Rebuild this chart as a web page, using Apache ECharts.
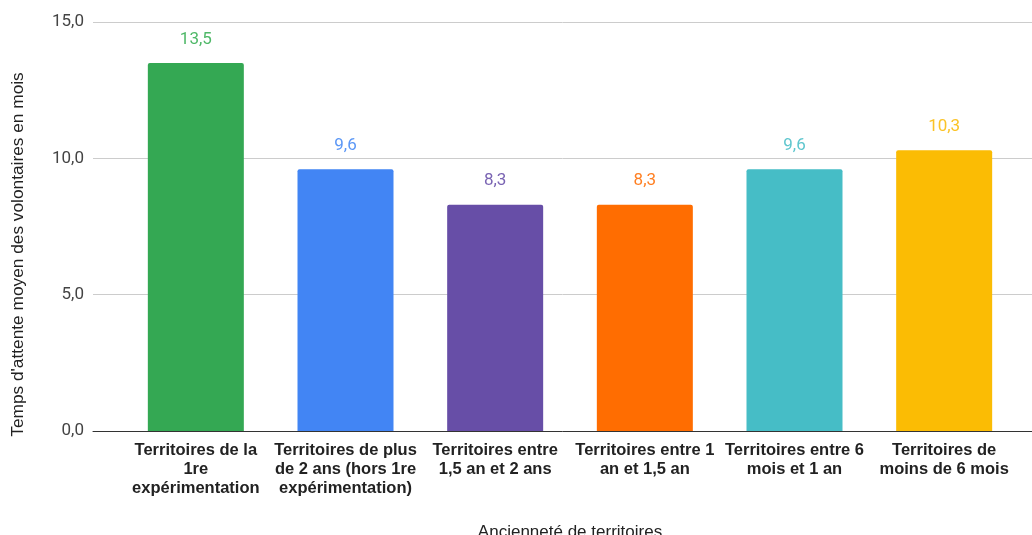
<!DOCTYPE html>
<html><head><meta charset="utf-8">
<script src="https://cdn.jsdelivr.net/npm/echarts@6/dist/echarts.min.js"></script>
<style>html,body{margin:0;padding:0;background:#fff}#c{width:1032px;height:535px}</style>
</head><body><div id="c"></div>
<script>
const categories = [
  "Territoires de la\n1re\nexpérimentation",
  "Territoires de plus\nde 2 ans (hors 1re\nexpérimentation)",
  "Territoires entre\n1,5 an et 2 ans",
  "Territoires entre 1\nan et 1,5 an",
  "Territoires entre 6\nmois et 1 an",
  "Territoires de\nmoins de 6 mois"
];
const values = [13.5, 9.6, 8.3, 8.3, 9.6, 10.3];
const barColors = ["#34a853", "#4285f4", "#674ea7", "#ff6d01", "#46bdc6", "#fbbc04"];
const labelColors = ["#4fb868", "#5b97f6", "#7a64b3", "#ff7f22", "#5ec6ce", "#fbc327"];
const yTicks = [0, 5, 10, 15];

const fmt = v => v.toFixed(1).replace('.', ',');
const chart = echarts.init(document.getElementById('c'));
chart.setOption({
  animation: false,
  grid: [
    {left: 121, right: 13, top: 22, bottom: 104, outerBoundsMode: 'none', containLabel: false},
    {left: 93, right: 0, top: 22, bottom: 104, outerBoundsMode: 'none', containLabel: false}
  ],
  xAxis: [
    {type: 'category', gridIndex: 0, data: categories,
     axisLine: {show: false}, axisTick: {show: false},
     axisLabel: {interval: 0, fontFamily: 'Liberation Sans', fontWeight: 'bold', fontSize: 16.5, color: '#222', lineHeight: 19, margin: 10},
     name: 'Ancienneté de territoires', nameLocation: 'middle', nameGap: 93,
     nameTextStyle: {fontFamily: 'Liberation Sans', fontSize: 17, color: '#222'}},
    {type: 'value', gridIndex: 1, min: 0, max: 1, show: true,
     axisLine: {show: true, lineStyle: {color: '#333', width: 1}}, axisTick: {show: false}, axisLabel: {show: false}, splitLine: {show: false}}
  ],
  yAxis: [
    {type: 'value', gridIndex: 0, min: 0, max: 15, interval: 5, show: false, splitLine: {show: false}},
    {type: 'value', gridIndex: 1, min: yTicks[0], max: yTicks[yTicks.length - 1], interval: 5,
     axisLine: {show: false}, axisTick: {show: false},
     axisLabel: {formatter: v => fmt(v), fontFamily: 'Roboto', fontSize: 17, color: '#444', margin: 9},
     splitLine: {lineStyle: {color: '#cccccc', width: 1}},
     name: "Temps d'attente moyen des volontaires en mois", nameLocation: 'middle', nameGap: 66,
     nameTextStyle: {fontFamily: 'Liberation Sans', fontSize: 17.3, color: '#222', padding: [0, 56, 0, 0]}}
  ],
  series: [
    {type: 'bar', xAxisIndex: 0, yAxisIndex: 0, barWidth: 96,
     data: values.map((v, i) => ({value: v, itemStyle: {color: barColors[i], borderRadius: [2, 2, 0, 0]},
       label: {color: labelColors[i]}})),
     label: {show: true, position: 'top', distance: 15, formatter: p => fmt(p.value), fontFamily: 'Roboto', fontSize: 17}},
    {type: 'line', xAxisIndex: 1, yAxisIndex: 1, data: [], silent: true}
  ]
});
</script></body></html>
